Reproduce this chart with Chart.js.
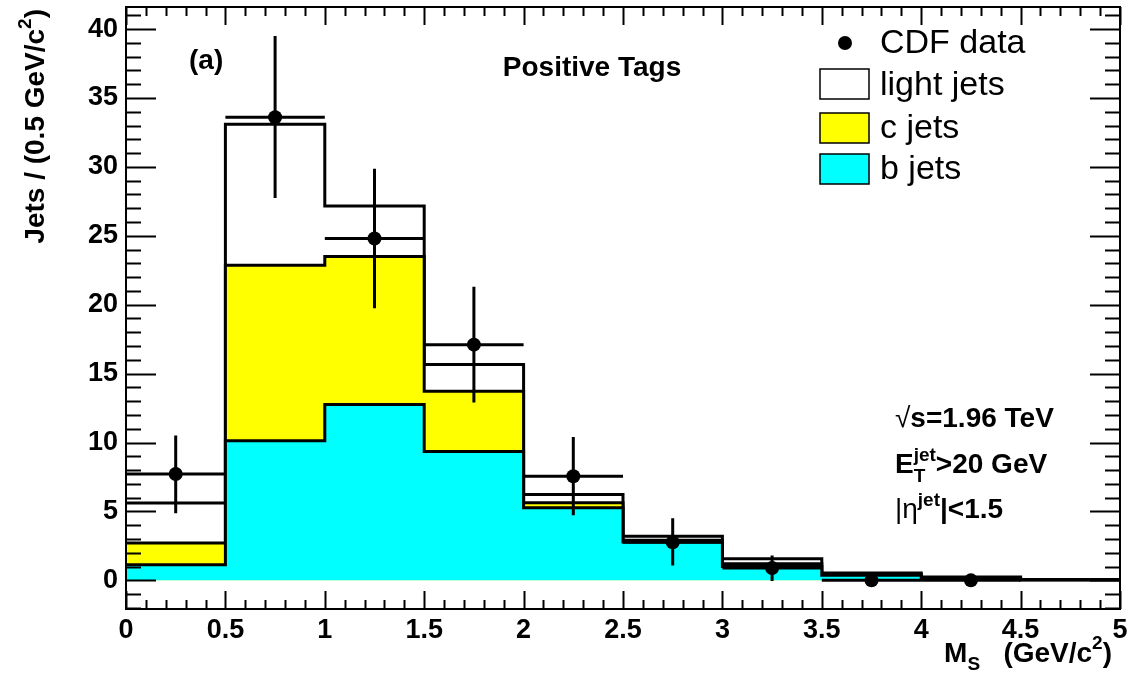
<!DOCTYPE html>
<html>
<head>
<meta charset="utf-8">
<script src="https://cdn.jsdelivr.net/npm/chart.js@4"></script>
<style>
  html, body { margin: 0; padding: 0; background: #fff; }
  #wrap { width: 1132px; height: 680px; }
</style>
</head>
<body>
<div id="wrap"><canvas id="chart-ms" width="1132" height="680" style="width:1132px;height:680px"></canvas></div>
<script>
// bin edges of the secondary vertex mass histogram (GeV/c^2)
var binEdges = [0, 0.5, 1, 1.5, 2, 2.5, 3, 3.5, 4, 4.5, 5];

// template contributions per bin (stacked b -> c -> light)
var bJets     = [1.13, 10.12, 12.76, 9.35, 5.27, 2.78, 1.00, 0.36, 0.08, 0.02];
var cJets     = [1.58, 12.74, 10.74, 4.37, 0.36, 0.12, 0.20, 0.09, 0.07, 0.02];
var lightJets = [2.90, 10.24,  3.67, 1.94, 0.60, 0.29, 0.36, 0.08, 0.09, 0.02];

// CDF data points (bin centres) with their error bars
var dataX       = [0.25, 0.75, 1.25, 1.75, 2.25, 2.75, 3.25, 3.75, 4.25];
var dataY       = [7.72, 33.6, 24.8, 17.1, 7.55, 2.76, 0.89, 0, 0];
var dataErrUp   = [2.78, 5.90, 5.06, 4.20, 2.85, 1.74, 0.91, 0, 0];
var dataErrDown = [2.85, 5.85, 5.06, 4.20, 2.83, 1.68, 0.94, 0, 0];

// axis ranges and ticks
var xRange = [0, 5];
var yRange = [-2.08, 41.6];
var xMajor = 0.5, xMinor = 0.1;
var yMajor = 5, yMinor = 1;

var FONT = "'Liberation Sans', Arial, Helvetica, sans-serif";
Chart.defaults.font.family = FONT;
Chart.defaults.color = '#000';

// turn per-bin values into step points (left edge of every bin + closing edge)
function stepPoints(vals) {
    var pts = [];
    for (var i = 0; i < vals.length; i++) {
        pts.push({ x: binEdges[i], y: vals[i] });
    }
    pts.push({ x: binEdges[vals.length], y: vals[vals.length - 1] });
    return pts;
}

var bTop = bJets.slice();
var cTop = bJets.map(function (v, i) { return v + cJets[i]; });
var lightTop = cTop.map(function (v, i) { return v + lightJets[i]; });

var dataPts = dataX.map(function (x, i) { return { x: x, y: dataY[i] }; });

// draw a run of text pieces (sub/superscripts) from x, y baseline
function richText(ctx, x, y, parts, align) {
    var total = 0;
    parts.forEach(function (p) {
        ctx.font = (p.w || 'bold') + ' ' + p.s + 'px ' + FONT;
        p.width = ctx.measureText(p.t).width;
        if (!p.stay) total += p.width;
    });
    var cx = align === 'right' ? x - total : (align === 'center' ? x - total / 2 : x);
    ctx.textAlign = 'left';
    ctx.textBaseline = 'alphabetic';
    parts.forEach(function (p) {
        ctx.font = (p.w || 'bold') + ' ' + p.s + 'px ' + FONT;
        ctx.fillText(p.t, cx, y + (p.dy || 0));
        if (!p.stay) cx += p.width;
    });
}

var rootFrame = {
    id: 'rootFrame',
    afterDraw: function (chart) {
        var ctx = chart.ctx;
        var a = chart.chartArea;
        var xs = chart.scales.x, ys = chart.scales.y;
        ctx.save();

        // error bars of the data points
        ctx.strokeStyle = '#000';
        ctx.lineWidth = 3;
        ctx.lineCap = 'butt';
        for (var i = 0; i < dataX.length; i++) {
            var py = ys.getPixelForValue(dataY[i]);
            var px = xs.getPixelForValue(dataX[i]);
            ctx.beginPath();
            ctx.moveTo(xs.getPixelForValue(binEdges[i]), py);
            ctx.lineTo(xs.getPixelForValue(binEdges[i + 1]), py);
            if (dataErrUp[i] > 0 || dataErrDown[i] > 0) {
                ctx.moveTo(px, ys.getPixelForValue(dataY[i] + dataErrUp[i]));
                ctx.lineTo(px, ys.getPixelForValue(dataY[i] - dataErrDown[i]));
            }
            ctx.stroke();
        }

        // frame
        ctx.lineWidth = 2;
        ctx.strokeRect(a.left, a.top, a.right - a.left, a.bottom - a.top);

        // ticks on all four sides, pointing inwards
        ctx.beginPath();
        var n, v, p, len;
        for (n = Math.ceil(xRange[0] / xMinor - 1e-6); n * xMinor <= xRange[1] + 1e-6; n++) {
            v = n * xMinor;
            p = Math.round(xs.getPixelForValue(v)) + 0.5;
            len = Math.abs(v / xMajor - Math.round(v / xMajor)) < 1e-6 ? 18 : 9;
            ctx.moveTo(p, a.bottom); ctx.lineTo(p, a.bottom - len);
            ctx.moveTo(p, a.top); ctx.lineTo(p, a.top + len);
        }
        for (n = Math.ceil(yRange[0] / yMinor); n * yMinor <= yRange[1]; n++) {
            v = n * yMinor;
            p = Math.round(ys.getPixelForValue(v)) + 0.5;
            len = n % (yMajor / yMinor) === 0 ? 30 : 15;
            ctx.moveTo(a.left, p); ctx.lineTo(a.left + len, p);
            ctx.moveTo(a.right, p); ctx.lineTo(a.right - len, p);
        }
        ctx.stroke();

        // axis titles
        ctx.fillStyle = '#000';
        richText(ctx, 1112, 662, [
            { t: 'M', s: 28 },
            { t: 'S', s: 19, dy: 8 },
            { t: '   (GeV/c', s: 28 },
            { t: '2', s: 19, dy: -13 },
            { t: ')', s: 28 }
        ], 'right');

        ctx.save();
        ctx.translate(44, 9);
        ctx.rotate(-Math.PI / 2);
        richText(ctx, 0, 0, [
            { t: 'Jets / (0.5 GeV/c', s: 28 },
            { t: '2', s: 19, dy: -13 },
            { t: ')', s: 28 }
        ], 'right');
        ctx.restore();

        // labels inside the frame
        richText(ctx, 189, 69, [{ t: '(a)', s: 28 }]);
        richText(ctx, 592, 76, [{ t: 'Positive Tags', s: 28 }], 'center');

        richText(ctx, 895, 427, [
            { t: '\u221A', s: 28, w: 'normal' },
            { t: 's=1.96 TeV', s: 28 }
        ]);
        richText(ctx, 895, 473, [
            { t: 'E', s: 28 },
            { t: 'T', s: 19, dy: 9, stay: true },
            { t: 'jet', s: 19, dy: -12 },
            { t: '>20 GeV', s: 28 }
        ]);
        richText(ctx, 895, 518, [
            { t: '|\u03B7', s: 28, w: 'normal' },
            { t: 'jet', s: 19, dy: -12 },
            { t: '|<1.5', s: 28 }
        ]);

        // legend
        ctx.beginPath();
        ctx.arc(845, 43, 7, 0, Math.PI * 2);
        ctx.fill();
        var boxes = [['#ffffff', 84], ['#ffff00', 128], ['#00ffff', 169]];
        ctx.lineWidth = 1.5;
        boxes.forEach(function (b) {
            ctx.fillStyle = b[0];
            ctx.fillRect(820, b[1] - 15, 49, 30);
            ctx.strokeRect(820, b[1] - 15, 49, 30);
        });
        ctx.fillStyle = '#000';
        ctx.font = 'normal 34px ' + FONT;
        ctx.textAlign = 'left';
        ctx.textBaseline = 'middle';
        ctx.fillText('CDF data', 880, 44);
        ctx.fillText('light jets', 880, 86);
        ctx.fillText('c jets', 880, 129);
        ctx.fillText('b jets', 880, 170);

        ctx.restore();
    }
};

var histStyle = {
    borderColor: '#000',
    borderWidth: 3,
    pointRadius: 0,
    stepped: true,
    fill: 'origin',
    tension: 0,
    borderJoinStyle: 'miter'
};

function noPad(s) {
    s.paddingLeft = 0; s.paddingRight = 0;
    s.paddingTop = 0; s.paddingBottom = 0;
}

var ctxMs = document.getElementById('chart-ms').getContext('2d');
var chartMs = new Chart(ctxMs, {
    type: 'line',
    data: {
        datasets: [
            Object.assign({ label: 'light jets', data: stepPoints(lightTop), backgroundColor: '#ffffff', order: 3 }, histStyle),
            Object.assign({ label: 'c jets', data: stepPoints(cTop), backgroundColor: '#ffff00', order: 2 }, histStyle),
            Object.assign({ label: 'b jets', data: stepPoints(bTop), backgroundColor: '#00ffff', order: 1 }, histStyle),
            {
                label: 'CDF data',
                data: dataPts,
                showLine: false,
                pointRadius: 7,
                pointBackgroundColor: '#000',
                pointBorderWidth: 0,
                order: 0
            }
        ]
    },
    options: {
        responsive: false,
        animation: false,
        layout: { padding: { left: 0, right: 12, top: 2, bottom: 0 } },
        plugins: { legend: { display: false }, tooltip: { enabled: false } },
        scales: {
            x: {
                type: 'linear',
                min: xRange[0], max: xRange[1],
                grid: { display: false, drawTicks: false },
                border: { display: false },
                ticks: { stepSize: xMajor, padding: 5, maxRotation: 0, autoSkip: false,
                         font: { size: 27, weight: 'bold' }, color: '#000',
                         callback: function (v) { return String(Number(v.toFixed(1))); } },
                afterFit: function (s) { s.height = 71; noPad(s); }
            },
            y: {
                type: 'linear',
                min: yRange[0], max: yRange[1],
                grid: { display: false, drawTicks: false },
                border: { display: false },
                ticks: { stepSize: yMajor, padding: 8, includeBounds: false,
                         font: { size: 27, weight: 'bold' }, color: '#000' },
                afterFit: function (s) { s.width = 126; noPad(s); }
            }
        }
    },
    plugins: [rootFrame]
});
</script>
</body>
</html>
